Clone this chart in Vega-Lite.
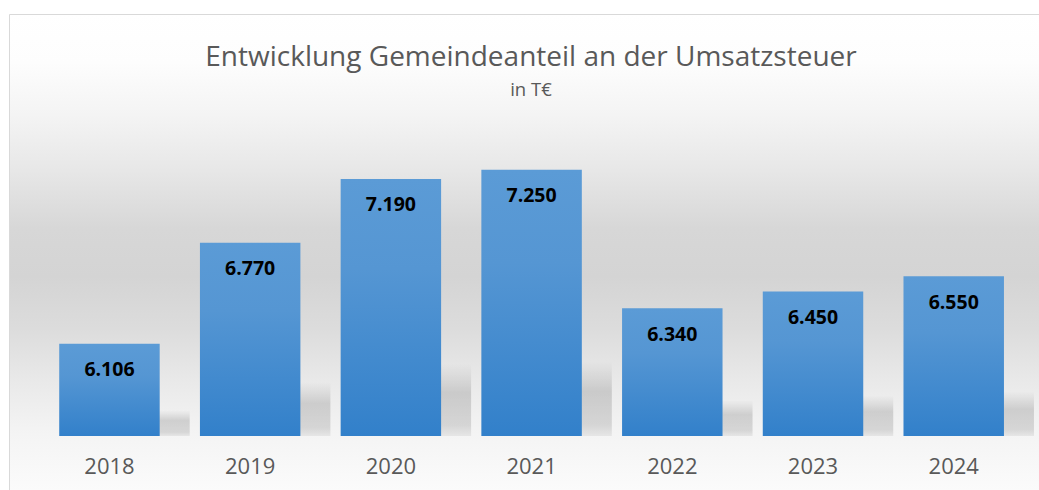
{
  "$schema": "https://vega.github.io/schema/vega-lite/v6.json",
  "width": 1030,
  "height": 476,
  "autosize": {"type": "none"},
  "padding": {"left": 9, "top": 14, "right": 0, "bottom": 0},
  "background": "#ffffff",
  "title": {
    "text": "Entwicklung Gemeindeanteil an der Umsatzsteuer",
    "subtitle": "in T€",
    "anchor": "middle",
    "frame": "group",
    "offset": -85,
    "dx": 7,
    "font": "Open Sans",
    "fontSize": 28,
    "fontWeight": "normal",
    "color": "#595959",
    "subtitleFont": "Open Sans",
    "subtitleFontSize": 18.5,
    "subtitleColor": "#595959",
    "subtitlePadding": 9
  },
  "config": {
    "view": {
      "stroke": "#d9d9d9",
      "strokeWidth": 1,
      "fill": {
        "gradient": "linear",
        "x1": 0, "y1": 0, "x2": 0, "y2": 1,
        "stops": [
          {"offset": 0, "color": "#ffffff"},
          {"offset": 0.1, "color": "#fdfdfd"},
          {"offset": 0.21, "color": "#f4f4f4"},
          {"offset": 0.32, "color": "#e8e8e8"},
          {"offset": 0.45, "color": "#d7d7d7"},
          {"offset": 0.55, "color": "#d4d4d4"},
          {"offset": 0.66, "color": "#dcdcdc"},
          {"offset": 0.77, "color": "#e9e9e9"},
          {"offset": 0.88, "color": "#f4f4f4"},
          {"offset": 1, "color": "#fbfbfb"}
        ]
      }
    },
    "locale": {"number": {"decimal": ",", "thousands": ".", "grouping": [3], "currency": ["", " €"]}}
  },
  "data": {
    "values": [
      {"jahr": "2018", "wert": 6106},
      {"jahr": "2019", "wert": 6770},
      {"jahr": "2020", "wert": 7190},
      {"jahr": "2021", "wert": 7250},
      {"jahr": "2022", "wert": 6340},
      {"jahr": "2023", "wert": 6450},
      {"jahr": "2024", "wert": 6550}
    ]
  },
  "encoding": {
    "x": {
      "field": "jahr",
      "type": "nominal",
      "sort": null,
      "scale": {"paddingInner": 0.286, "paddingOuter": 0.303, "align": 0.589},
      "axis": {
        "orient": "bottom",
        "offset": -54,
        "title": null,
        "domain": false,
        "ticks": false,
        "grid": false,
        "labelAngle": 0,
        "labelFont": "Open Sans",
        "labelFontSize": 22,
        "labelColor": "#595959",
        "labelPadding": 30,
        "labelBaseline": "middle"
      }
    }
  },
  "layer": [
    {
      "mark": {
        "type": "bar",
        "xOffset": 30,
        "fill": {
          "gradient": "linear",
          "x1": 0, "y1": 0, "x2": 0, "y2": 1,
          "stops": [
            {"offset": 0, "color": "rgba(0,0,0,0)"},
            {"offset": 0.15, "color": "rgba(0,0,0,0.05)"},
            {"offset": 0.4, "color": "rgba(0,0,0,0.14)"},
            {"offset": 0.85, "color": "rgba(0,0,0,0.12)"},
            {"offset": 1, "color": "rgba(0,0,0,0.06)"}
          ]
        }
      },
      "encoding": {
        "y": {"field": "wert", "type": "quantitative", "scale": {"domain": [4232, 15409], "nice": false, "zero": false}, "axis": null},
        "y2": {"datum": 5500}
      }
    },
    {
      "mark": {
        "type": "bar",
        "fill": {
          "gradient": "linear",
          "x1": 0, "y1": 0, "x2": 0, "y2": 1,
          "stops": [
            {"offset": 0, "color": "#5b9bd6"},
            {"offset": 0.35, "color": "#5596d3"},
            {"offset": 1, "color": "#3280ca"}
          ]
        }
      },
      "encoding": {
        "y": {"field": "wert", "type": "quantitative", "scale": {"domain": [5145, 8274.5], "nice": false, "zero": false}, "axis": null},
        "y2": {"datum": 5500}
      }
    },
    {
      "mark": {
        "type": "text",
        "dy": 26.5,
        "baseline": "middle",
        "font": "Open Sans",
        "fontSize": 19.5,
        "fontWeight": "bold",
        "color": "#000000"
      },
      "encoding": {
        "y": {"field": "wert", "type": "quantitative", "scale": {"domain": [5145, 8274.5], "nice": false, "zero": false}, "axis": null},
        "text": {"field": "wert", "type": "quantitative", "format": ",d"}
      }
    }
  ],
  "resolve": {"scale": {"y": "independent"}}
}
